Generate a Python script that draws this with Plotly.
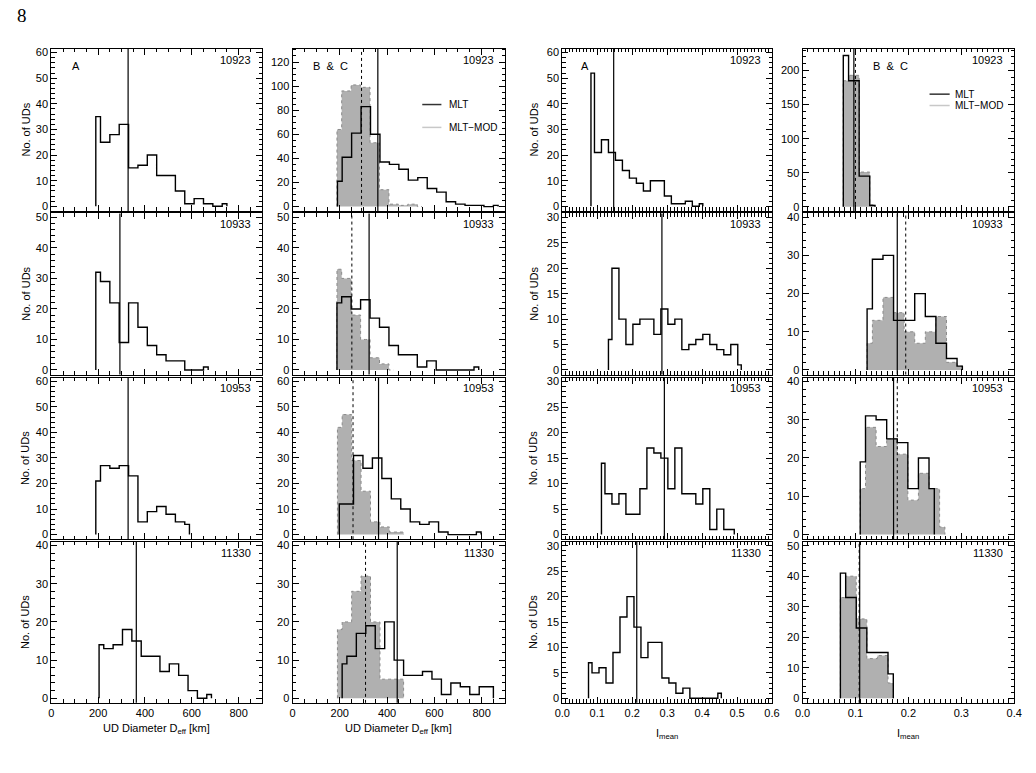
import plotly.graph_objects as go

W, H = 1036, 773
regions = ["10923", "10933", "10953", "11330"]

# ---------------- Column 1: "A", UD diameter [km], bins of 40 km ----------------
diamA_bin = 40
diamA_start = [190, 190, 190, 204]
diamA_10923 = [35, 25, 28, 32, 15, 16, 20, 12, 12, 6, 1, 3, 1, 0, 1]
diamA_10933 = [32, 29, 22, 9, 22, 14, 8, 5, 3, 3, 0, 0, 1]
diamA_10953 = [21, 27, 26, 27, 23, 5, 9, 11, 8, 5, 4]
diamA_11330 = [14, 13, 14, 18, 15, 11, 11, 7, 9, 6, 2, 0, 1]
diamA_mean = [328, 293, 328, 363]

# ---------------- Column 2: "B & C", UD diameter [km] ----------------
diamBC_bin = 40
diamBC_mlt_start = [190, 188, 198, 210]
diamBC_mlt_10923 = [21, 41, 61, 83, 60, 37, 35, 31, 22, 24, 15, 12, 4, 2, 1, 1, 0, 1]
diamBC_mlt_10933 = [22, 24, 20, 23, 17, 14, 8, 5, 5, 1, 3, 0, 0, 0, 0, 1]
diamBC_mlt_10953 = [12, 12, 31, 26, 30, 22, 14, 10, 5, 4, 5, 1, 0, 0, 0, 1]
diamBC_mlt_11330 = [9, 11, 17, 19, 13, 20, 10, 6, 6, 7, 5, 1, 4, 3, 1, 3, 3]
diamBC_mod_start = [188, 188, 190, 190]
diamBC_mod_10923 = [64, 96, 101, 99, 53, 14, 2, 1, 2, 0]
diamBC_mod_10933 = [33, 30, 18, 10, 4, 2, 0]
diamBC_mod_10953 = [42, 47, 29, 17, 5, 3, 1, 1]
diamBC_mod_11330 = [18, 20, 28, 32, 20, 5, 5, 5]
diamBC_mlt_mean = [361, 324, 364, 443]
diamBC_mod_mean = [292, 251, 256, 309]

# ---------------- Column 3: "A", I_mean, bins of 0.02 ----------------
imA_bin = 0.02
imA_start = [0.082, 0.132, 0.112, 0.075]
imA_10923 = [52, 21, 26, 21, 18, 14, 11, 9, 6, 10, 10, 4, 1, 1, 2, 0, 1]
imA_10933 = [6, 20, 10, 5, 9, 10, 10, 7, 12, 9, 10, 4, 5, 6, 7, 5, 4, 3, 5, 1]
imA_10953 = [14, 8, 6, 8, 4, 4, 9, 17, 16, 15, 9, 17, 8, 8, 6, 9, 1, 5, 1, 1]
imA_11330 = [7, 5, 6, 3, 9, 16, 20, 14, 8, 11, 11, 4, 3, 1, 2, 0, 0, 0, 0, 1]
imA_mean = [0.147, 0.285, 0.292, 0.213]

# ---------------- Column 4: "B & C", I_mean ----------------
imBC_bin = 0.02
imBC_start = [0.077, 0.122, 0.109, 0.0715]
imBC_mlt_10923 = [222, 185, 45, 2]
imBC_mlt_10933 = [16, 29, 30, 13, 13, 20, 14, 7, 3, 1]
imBC_mlt_10953 = [19, 31, 30, 25, 24, 12, 20, 12]
imBC_mlt_11330 = [41, 33, 23, 15, 15, 8]
imBC_mod_10923 = [185, 193, 51, 3]
imBC_mod_10933 = [7, 13, 19, 15, 10, 7, 10, 14, 2, 1]
imBC_mod_10953 = [12, 28, 23, 25, 21, 9, 16, 12, 2]
imBC_mod_11330 = [33, 40, 26, 13, 14, 5]
imBC_mlt_mean = [0.097, 0.179, 0.172, 0.108]
imBC_mod_mean = [0.100, 0.195, 0.179, 0.107]

# y-axis: top tick value per panel (rows x columns) and tick spacing
y_max = [[60, 120, 60, 200], [50, 50, 30, 40], [60, 60, 30, 40], [40, 40, 30, 50]]
y_top = [[61.5, 131, 61.5, 232], [51.3, 51.3, 30.8, 41], [61.5, 61.5, 30.8, 41], [41, 41, 30.8, 51.3]]
y_dtick = [[10, 20, 10, 50], [10, 10, 5, 10], [10, 10, 5, 10], [10, 10, 5, 10]]
y_minor = [[2, 5, 2, 10], [2, 2, 1, 2], [2, 2, 1, 2], [2, 2, 1, 2]]

x_range = [[0, 900], [0, 900], [0, 0.6], [0, 0.4]]
x_dtick = [200, 200, 0.1, 0.1]
x_minor = [50, 50, 0.01, 0.01]

colA = [diamA_10923, diamA_10933, diamA_10953, diamA_11330]
colBm = [diamBC_mlt_10923, diamBC_mlt_10933, diamBC_mlt_10953, diamBC_mlt_11330]
colBd = [diamBC_mod_10923, diamBC_mod_10933, diamBC_mod_10953, diamBC_mod_11330]
colC = [imA_10923, imA_10933, imA_10953, imA_11330]
colDm = [imBC_mlt_10923, imBC_mlt_10933, imBC_mlt_10953, imBC_mlt_11330]
colDd = [imBC_mod_10923, imBC_mod_10933, imBC_mod_10953, imBC_mod_11330]

col_px = [(44, 258), (289, 505), (563, 776), (807, 1022)]
row_px = [(47, 210), (212.5, 374.5), (377.5, 540), (542.5, 704.5)]

FONT = "Liberation Sans"
fig = go.Figure()
shapes = []
annotations = []


def step_xy(start, width, counts):
    xs = [start + width * k for k in range(len(counts))]
    return [xs[0]] + xs + [xs[-1]], [0] + list(counts) + [0]


def sfx(i):
    return "" if i == 1 else str(i)


for r in range(4):
    for c in range(4):
        i = r * 4 + c + 1
        xa, ya = "x" + sfx(i), "y" + sfx(i)
        if c in (1, 3):
            if c == 1:
                mod_x, mod_y = step_xy(diamBC_mod_start[r], diamBC_bin, colBd[r])
                mlt_x, mlt_y = step_xy(diamBC_mlt_start[r], diamBC_bin, colBm[r])
                m1, m2 = diamBC_mlt_mean[r], diamBC_mod_mean[r]
            else:
                mod_x, mod_y = step_xy(imBC_start[r], imBC_bin, colDd[r])
                mlt_x, mlt_y = step_xy(imBC_start[r], imBC_bin, colDm[r])
                m1, m2 = imBC_mlt_mean[r], imBC_mod_mean[r]
            fig.add_trace(go.Scatter(x=mod_x, y=mod_y, mode="lines", fill="tozeroy",
                                     fillcolor="#b0b0b0",
                                     line=dict(color="#8a8a8a", width=1, dash="dot", shape="hvh"),
                                     xaxis=xa, yaxis=ya, showlegend=False, hoverinfo="skip"))
            fig.add_trace(go.Scatter(x=mlt_x, y=mlt_y, mode="lines",
                                     line=dict(color="black", width=1.4, shape="hvh"),
                                     xaxis=xa, yaxis=ya, showlegend=False, hoverinfo="skip"))
            shapes.append(dict(type="line", xref=xa, yref=ya + " domain", x0=m1, x1=m1, y0=0, y1=1,
                               line=dict(color="black", width=1.2)))
            shapes.append(dict(type="line", xref=xa, yref=ya + " domain", x0=m2, x1=m2, y0=0, y1=1,
                               line=dict(color="black", width=1, dash="dot")))
        else:
            if c == 0:
                hx, hy = step_xy(diamA_start[r], diamA_bin, colA[r])
                m1 = diamA_mean[r]
            else:
                hx, hy = step_xy(imA_start[r], imA_bin, colC[r])
                m1 = imA_mean[r]
            fig.add_trace(go.Scatter(x=hx, y=hy, mode="lines",
                                     line=dict(color="black", width=1.4, shape="hvh"),
                                     xaxis=xa, yaxis=ya, showlegend=False, hoverinfo="skip"))
            shapes.append(dict(type="line", xref=xa, yref=ya + " domain", x0=m1, x1=m1, y0=0, y1=1,
                               line=dict(color="black", width=1.2)))

        x0p, x1p = col_px[c]
        t, b = row_px[r]
        common = dict(showline=True, linecolor="black", linewidth=1, mirror="allticks",
                      ticks="inside", ticklen=6, tickwidth=1, tickcolor="black",
                      showgrid=False, zeroline=False, fixedrange=True,
                      tickfont=dict(family=FONT, size=11, color="black"))
        fig.layout["xaxis" + sfx(i)] = dict(
            domain=[x0p / W, x1p / W], range=x_range[c], anchor=ya,
            tick0=0, dtick=x_dtick[c],
            minor=dict(ticks="inside", ticklen=3.5, dtick=x_minor[c], tick0=0,
                       tickcolor="black", tickwidth=1),
            showticklabels=(r == 3),
            tickformat=(".1f" if c >= 2 else "d"),
            **common)
        fig.layout["yaxis" + sfx(i)] = dict(
            domain=[1 - b / H, 1 - t / H], range=[-0.03 * y_max[r][c], y_top[r][c]], anchor=xa,
            tick0=0, dtick=y_dtick[r][c],
            minor=dict(ticks="inside", ticklen=3.5, dtick=y_minor[r][c], tick0=0,
                       tickcolor="black", tickwidth=1),
            **common)
        annotations.append(dict(text=regions[r], xref=xa + " domain", yref=ya + " domain",
                                x=1 - 9 / (x1p - x0p), y=1 - 11 / (b - t), xanchor="right",
                                yanchor="middle", showarrow=False,
                                font=dict(family=FONT, size=11, color="black")))

# panel tags
tags = [("A", 1, 0.09), ("B &nbsp;&amp;&nbsp; C", 2, 0.085), ("A", 3, 0.08), ("B &nbsp;&amp;&nbsp; C", 4, 0.325)]
for txt, i, xf in tags:
    annotations.append(dict(text=txt, xref="x" + sfx(i) + " domain",
                            yref="y" + sfx(i) + " domain", x=xf, y=0.895, xanchor="left",
                            yanchor="middle", showarrow=False,
                            font=dict(family=FONT, size=11, color="black")))

# legends (MLT / MLT-MOD) in panels 2 and 4
for i, lx0, lx1, tx, yy1, yy2 in [(2, 0.61, 0.70, 0.725, 0.656, 0.515),
                                   (4, 0.60, 0.695, 0.712, 0.72, 0.65)]:
    xr, yr = "x" + sfx(i) + " domain", "y" + sfx(i) + " domain"
    shapes.append(dict(type="line", xref=xr, yref=yr, x0=lx0, x1=lx1, y0=yy1, y1=yy1,
                       line=dict(color="#333333", width=1.5)))
    shapes.append(dict(type="line", xref=xr, yref=yr, x0=lx0, x1=lx1, y0=yy2, y1=yy2,
                       line=dict(color="#c8c8c8", width=1.5)))
    annotations.append(dict(text="MLT", xref=xr, yref=yr, x=tx, y=yy1, xanchor="left",
                            yanchor="middle", showarrow=False,
                            font=dict(family=FONT, size=10, color="black")))
    annotations.append(dict(text="MLT\u2212MOD", xref=xr, yref=yr, x=tx, y=yy2, xanchor="left",
                            yanchor="middle", showarrow=False,
                            font=dict(family=FONT, size=10, color="black")))

# y-axis titles
for r in range(4):
    t, b = row_px[r]
    yc = 1 - (t + b) / 2 / H
    for xp in (18, 534):
        annotations.append(dict(text="No. of UDs", xref="paper", yref="paper", x=xp / W, y=yc,
                                xanchor="center", yanchor="middle", textangle=-90, showarrow=False,
                                font=dict(family=FONT, size=11, color="black")))

# x-axis titles
for c in range(4):
    x0p, x1p = col_px[c]
    xc = (x0p + x1p) / 2 / W
    if c < 2:
        txt, yp = "UD Diameter D<sub>eff</sub> [km]", 731
    else:
        txt, yp = "I<sub>mean</sub>", 736
    annotations.append(dict(text=txt, xref="paper", yref="paper", x=xc, y=1 - yp / H,
                            xanchor="center", yanchor="middle", showarrow=False,
                            font=dict(family=FONT, size=11, color="black")))

# page number
annotations.append(dict(text="8", xref="paper", yref="paper", x=7 / W, y=1 - 14 / H,
                        xanchor="left", yanchor="middle", showarrow=False,
                        font=dict(family="Liberation Serif", size=19, color="black")))

fig.update_layout(width=W, height=H, autosize=False, margin=dict(l=0, r=0, t=0, b=0),
                  paper_bgcolor="white", plot_bgcolor="white",
                  shapes=shapes, annotations=annotations, showlegend=False)

fig.write_html("out.html")
